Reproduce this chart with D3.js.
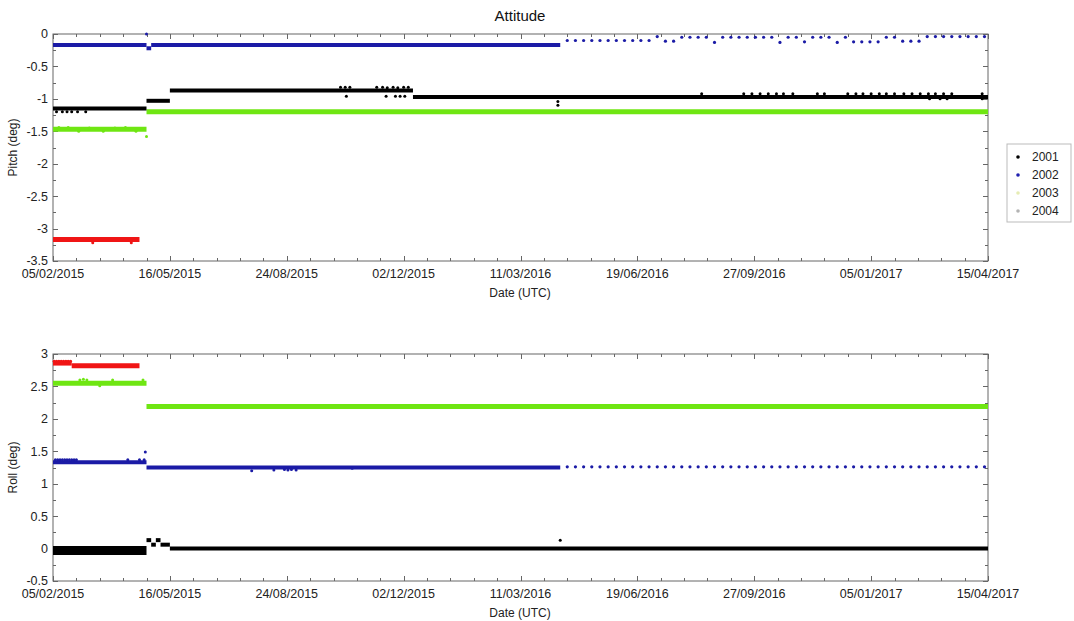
<!DOCTYPE html>
<html>
<head>
<meta charset="utf-8">
<script src="https://cdn.jsdelivr.net/npm/d3@7"></script>
<style>
  body { margin: 0; background: #fff; }
  svg { display: block; font-family: "Liberation Sans", Arial, Helvetica, sans-serif; }
</style>
</head>
<body>
<svg id="chart" width="1074" height="621"></svg>
<script>
// ---- data ----
var xTickLabels = ["05/02/2015", "16/05/2015", "24/08/2015", "02/12/2015", "11/03/2016",
                   "19/06/2016", "27/09/2016", "05/01/2017", "15/04/2017"];
var pitchTicks = [0, -0.5, -1, -1.5, -2, -2.5, -3, -3.5];
var rollTicks = [3, 2.5, 2, 1.5, 1, 0.5, 0, -0.5];
var legendNames = ["2001", "2002", "2003", "2004"];

// dense samples that look like solid runs: [from, to, value]
var pitch2001Runs = [["2015-02-05", "2015-04-26", -1.15], ["2015-04-26", "2015-05-16", -1.03],
                     ["2015-05-16", "2015-12-10", -0.87], ["2015-12-10", "2017-04-15", -0.97]];
var pitch2001Dots = [
  ["2015-02-08", -1.2], ["2015-02-13", -1.2], ["2015-02-17", -1.2], ["2015-02-21", -1.2],
  ["2015-02-26", -1.2], ["2015-03-05", -1.2],
  ["2015-10-09", -0.82], ["2015-10-13", -0.82], ["2015-10-17", -0.82], ["2015-10-14", -0.96],
  ["2015-11-09", -0.82], ["2015-11-14", -0.82], ["2015-11-18", -0.83], ["2015-11-23", -0.82],
  ["2015-11-27", -0.83], ["2015-12-02", -0.82], ["2015-12-06", -0.82],
  ["2015-11-17", -0.96], ["2015-11-25", -0.96], ["2015-11-29", -0.96], ["2015-12-03", -0.96],
  ["2016-04-12", -1.04], ["2016-04-12", -1.1],
  ["2016-08-13", -0.92], ["2016-09-18", -0.92], ["2016-09-25", -0.92], ["2016-10-02", -0.92],
  ["2016-10-09", -0.92], ["2016-10-16", -0.92], ["2016-10-22", -0.92], ["2016-10-30", -0.92],
  ["2016-11-20", -0.92], ["2016-11-26", -0.92], ["2016-12-16", -0.92], ["2016-12-23", -0.92],
  ["2016-12-29", -0.92], ["2017-01-05", -0.92], ["2017-01-12", -0.92], ["2017-01-18", -0.92],
  ["2017-01-25", -0.92], ["2017-02-02", -0.92], ["2017-02-09", -0.92], ["2017-02-16", -0.92],
  ["2017-02-23", -0.92], ["2017-03-01", -0.92], ["2017-03-08", -0.92], ["2017-03-15", -0.92],
  ["2017-04-10", -0.92],
  ["2017-02-24", -1.0], ["2017-03-05", -1.0], ["2017-03-11", -1.0], ["2017-04-10", -1.0]
];
var pitch2002Runs = [["2015-02-05", "2015-04-26", -0.17], ["2015-04-26", "2015-04-30", -0.22],
                     ["2015-04-30", "2016-04-14", -0.17]];
var pitch2002Dots = [["2015-04-26", 0]];
var weeklyStart = "2016-04-20";
var pitch2002Weekly = [
  -0.10, -0.10, -0.10, -0.10, -0.10, -0.10, -0.10, -0.10, -0.10, -0.10, -0.10,
  -0.04, -0.11, -0.11, -0.05, -0.05, -0.05, -0.05, -0.13,
  -0.05, -0.05, -0.05, -0.05, -0.05, -0.05, -0.05, -0.13, -0.05, -0.05, -0.12,
  -0.05, -0.05, -0.05, -0.13, -0.05, -0.12, -0.12, -0.12, -0.12, -0.05, -0.05,
  -0.11, -0.11, -0.11, -0.04, -0.04, -0.04, -0.04, -0.04, -0.04, -0.04, -0.04
];
var pitch2003Runs = [["2015-02-05", "2015-04-26", -1.47], ["2015-04-26", "2017-04-15", -1.2]];
var pitch2003Dots = [["2015-02-10", -1.44], ["2015-02-18", -1.44], ["2015-02-27", -1.5], ["2015-03-08", -1.45],
                     ["2015-03-20", -1.5], ["2015-03-30", -1.45], ["2015-04-08", -1.44], ["2015-04-17", -1.5],
                     ["2015-04-26", -1.58]];
var pitch2004Runs = [["2015-02-05", "2015-04-20", -3.17]];
var pitch2004Dots = [["2015-03-11", -3.22], ["2015-04-13", -3.22]];

var roll2001Band = [["2015-02-05", "2015-04-26", -0.03]];
var roll2001Runs = [["2015-04-26", "2015-04-30", 0.13], ["2015-04-30", "2015-05-04", 0.06],
                    ["2015-05-04", "2015-05-08", 0.13], ["2015-05-08", "2015-05-16", 0.06],
                    ["2015-05-16", "2017-04-15", 0]];
var roll2001Dots = [["2016-04-14", 0.13]];
var roll2002Runs = [["2015-02-05", "2015-04-26", 1.33], ["2015-04-26", "2016-04-14", 1.25]];
var roll2002Dots = [
  ["2015-02-07", 1.37], ["2015-02-09", 1.37], ["2015-02-11", 1.37], ["2015-02-13", 1.37], ["2015-02-15", 1.37],
  ["2015-02-17", 1.37], ["2015-02-19", 1.37], ["2015-02-21", 1.37], ["2015-02-23", 1.37], ["2015-02-25", 1.37],
  ["2015-04-10", 1.37], ["2015-04-20", 1.37], ["2015-04-24", 1.37], ["2015-04-25", 1.49],
  ["2015-07-25", 1.2], ["2015-08-13", 1.21], ["2015-08-22", 1.22], ["2015-08-25", 1.21], ["2015-08-28", 1.22],
  ["2015-09-01", 1.21], ["2015-09-14", 1.25], ["2015-09-24", 1.25], ["2015-10-19", 1.24]
];
var roll2002Weekly = [
  1.26, 1.26, 1.26, 1.26, 1.26, 1.26, 1.26, 1.26, 1.26, 1.26, 1.26, 1.26, 1.26,
  1.26, 1.26, 1.26, 1.26, 1.26, 1.26, 1.26, 1.26, 1.26, 1.26, 1.26, 1.26, 1.26,
  1.26, 1.26, 1.26, 1.26, 1.26, 1.26, 1.26, 1.26, 1.26, 1.26, 1.26, 1.26, 1.26,
  1.26, 1.26, 1.26, 1.26, 1.26, 1.26, 1.26, 1.26, 1.26, 1.26, 1.26, 1.26, 1.26
];
var roll2003Runs = [["2015-02-05", "2015-04-26", 2.55], ["2015-04-26", "2017-04-15", 2.19]];
var roll2003Dots = [["2015-02-28", 2.6], ["2015-03-03", 2.61], ["2015-03-06", 2.6], ["2015-03-17", 2.51],
                    ["2015-03-28", 2.6], ["2015-04-23", 2.6]];
var roll2004Runs = [["2015-02-05", "2015-02-21", 2.86], ["2015-02-21", "2015-04-20", 2.82]];
var roll2004Dots = [["2015-02-06", 2.89], ["2015-02-08", 2.89], ["2015-02-10", 2.89], ["2015-02-12", 2.89],
                    ["2015-02-14", 2.89], ["2015-02-16", 2.89], ["2015-02-18", 2.89], ["2015-02-20", 2.89]];

// ---- drawing ----
var BLACK = "#000", BLUE = "#1b1ba6", GREEN = "#6fe612", RED = "#f01515";
var legendColors = ["#000", "#2020b0", "#e6ecb4", "#b3b3b3"];

var parseDay = d3.utcParse("%Y-%m-%d");
var parseLabel = d3.utcParse("%d/%m/%Y");
var tickDates = xTickLabels.map(parseLabel);
var svg = d3.select("#chart");

var x = d3.scaleUtc()
  .domain([tickDates[0], tickDates[tickDates.length - 1]])
  .range([53, 988]);

var minorX = d3.range(0, 801, 20).map(function (d) { return d3.utcDay.offset(tickDates[0], d); });

function toDate(d) { return typeof d === "string" ? parseDay(d) : d; }

function weekly(values) {
  var start = parseDay(weeklyStart);
  return values.map(function (v, i) { return [d3.utcDay.offset(start, 7 * i), v]; });
}

function panel(top, bottom, yDomain, yTicks, yLabel, runs, dots) {
  var g = svg.append("g");
  var y = d3.scaleLinear().domain(yDomain).range([bottom, top]);

  g.append("rect")
    .attr("x", x.range()[0]).attr("y", top)
    .attr("width", x.range()[1] - x.range()[0]).attr("height", bottom - top)
    .attr("fill", "none").attr("stroke", "#666").attr("stroke-width", 1);

  // ticks pointing inwards on all sides
  var ticks = g.append("g").attr("stroke", "#666").attr("stroke-width", 1);
  minorX.forEach(function (d) {
    var len = tickDates.some(function (t) { return +t === +d; }) ? 5 : 3;
    var xx = Math.round(x(d)) + 0.5;
    ticks.append("line").attr("x1", xx).attr("x2", xx).attr("y1", bottom).attr("y2", bottom - len);
    ticks.append("line").attr("x1", xx).attr("x2", xx).attr("y1", top).attr("y2", top + len);
  });
  d3.range(yDomain[0], yDomain[1] + 0.001, 0.25).forEach(function (v) {
    var len = Math.abs(v * 2 - Math.round(v * 2)) < 1e-6 ? 5 : 3;
    var yy = Math.round(y(v)) + 0.5;
    ticks.append("line").attr("x1", x.range()[0]).attr("x2", x.range()[0] + len).attr("y1", yy).attr("y2", yy);
    ticks.append("line").attr("x1", x.range()[1]).attr("x2", x.range()[1] - len).attr("y1", yy).attr("y2", yy);
  });

  g.selectAll(".ylab").data(yTicks).enter().append("text")
    .attr("x", 48).attr("y", function (d) { return y(d); })
    .attr("dy", "0.35em").attr("text-anchor", "end")
    .attr("font-size", 12.5).attr("fill", "#222")
    .text(function (d) { return d; });

  g.selectAll(".xlab").data(xTickLabels).enter().append("text")
    .attr("x", function (d, i) { return x(tickDates[i]); })
    .attr("y", bottom + 17)
    .attr("text-anchor", "middle").attr("font-size", 12.5).attr("fill", "#222")
    .text(function (d) { return d; });

  g.append("text").attr("x", 520).attr("y", bottom + 36)
    .attr("text-anchor", "middle").attr("font-size", 12).attr("fill", "#222").text("Date (UTC)");

  g.append("text")
    .attr("transform", "translate(17," + (top + bottom) / 2 + ") rotate(-90)")
    .attr("text-anchor", "middle").attr("font-size", 12).attr("fill", "#222").text(yLabel);

  var line = d3.line()
    .x(function (d) { return x(toDate(d[0])); })
    .y(function (d) { return y(d[1]); });

  runs.forEach(function (s) {
    g.append("g").selectAll("path").data(s.data).enter().append("path")
      .attr("d", function (r) { return line([[r[0], r[2]], [r[1], r[2]]]); })
      .attr("fill", "none")
      .attr("stroke", s.color).attr("stroke-width", s.width);
  });

  dots.forEach(function (s) {
    g.append("g").selectAll("circle").data(s.data).enter().append("circle")
      .attr("cx", function (d) { return x(toDate(d[0])); })
      .attr("cy", function (d) { return y(d[1]); })
      .attr("r", s.r || 1.5).attr("fill", s.color);
  });
}

svg.append("text").attr("x", 520).attr("y", 21)
  .attr("text-anchor", "middle").attr("font-size", 15).attr("fill", "#111").text("Attitude");

panel(34, 261, [-3.5, 0], pitchTicks, "Pitch (deg)",
  [
    { data: pitch2004Runs, color: RED, width: 5 },
    { data: pitch2003Runs, color: GREEN, width: 5 },
    { data: pitch2001Runs, color: BLACK, width: 4 },
    { data: pitch2002Runs, color: BLUE, width: 4 }
  ],
  [
    { data: pitch2004Dots, color: RED },
    { data: pitch2003Dots, color: GREEN },
    { data: pitch2001Dots, color: BLACK },
    { data: pitch2002Dots, color: BLUE },
    { data: weekly(pitch2002Weekly), color: BLUE, r: 1.6 }
  ]);

panel(354, 581, [-0.5, 3], rollTicks, "Roll (deg)",
  [
    { data: roll2004Runs, color: RED, width: 5 },
    { data: roll2003Runs, color: GREEN, width: 5 },
    { data: roll2002Runs, color: BLUE, width: 4 },
    { data: roll2001Band, color: BLACK, width: 9 },
    { data: roll2001Runs, color: BLACK, width: 4 }
  ],
  [
    { data: roll2004Dots, color: RED },
    { data: roll2003Dots, color: GREEN },
    { data: roll2002Dots, color: BLUE },
    { data: weekly(roll2002Weekly), color: BLUE, r: 1.6 },
    { data: roll2001Dots, color: BLACK }
  ]);

// legend
var lg = svg.append("g").attr("transform", "translate(1007,144)");
lg.append("rect").attr("width", 64).attr("height", 78)
  .attr("fill", "#fff").attr("stroke", "#bbb");
legendNames.forEach(function (name, i) {
  var row = lg.append("g").attr("transform", "translate(0," + (13 + i * 18) + ")");
  row.append("circle").attr("cx", 11).attr("cy", 0).attr("r", 1.8).attr("fill", legendColors[i]);
  row.append("text").attr("x", 25).attr("y", 0).attr("dy", "0.35em")
    .attr("font-size", 12).attr("fill", "#222").text(name);
});
</script>
</body>
</html>
